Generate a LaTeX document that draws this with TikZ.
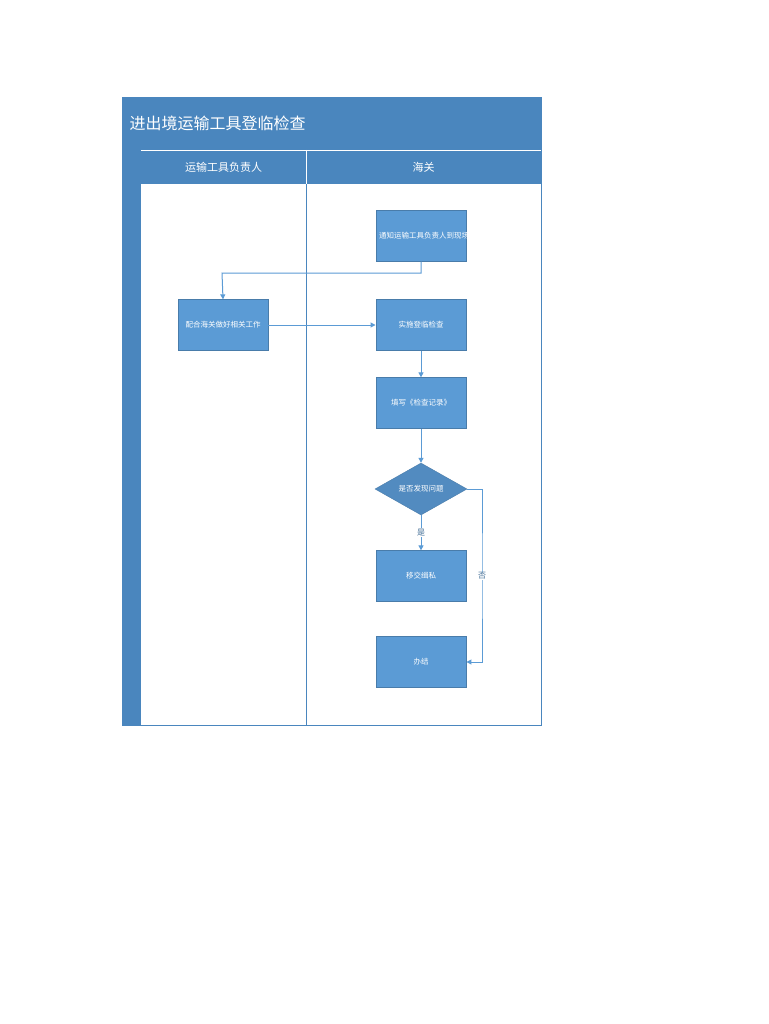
\documentclass[tikz,border=0pt]{standalone}
\usepackage{fontspec}
\setmainfont{Noto Sans CJK SC}
\usetikzlibrary{shapes.geometric,arrows.meta}
\definecolor{barblue}{HTML}{4A86BE}
\definecolor{boxblue}{HTML}{5B9BD5}
\tikzset{
  stepbox/.style={rectangle,fill=boxblue,draw=boxblue!80!black,line width=0.3pt,
    minimum width=90pt,minimum height=51pt,text width=84pt,align=center,
    text=white,font=\fontsize{7.5}{10}\selectfont},
  choice/.style={diamond,aspect=1.8,fill=boxblue!90!black,draw=boxblue!80!black,
    minimum width=92pt,minimum height=52pt,inner sep=0pt,text=white,
    font=\fontsize{7.5}{10}\selectfont},
  flow/.style={draw=boxblue,line width=1pt,-{Triangle[length=5pt,width=5pt]}},
  lbl/.style={text=boxblue!70!black,font=\fontsize{8}{10}\selectfont}
}
\begin{document}
\begin{tikzpicture}[x=1pt,y=-1pt]
\useasboundingbox (0,0) rectangle (768,1024);
% frame and lanes
\fill[white] (122,97) rectangle (541,725);
\fill[barblue] (122,97) rectangle (541,150);
\fill[barblue] (122,150) rectangle (141,725);
\fill[barblue] (141,150) rectangle (541,184);
\draw[barblue] (122,97) rectangle (541,725);
\draw[barblue] (306,150) -- (306,725);
\draw[white,line width=0.5pt] (141,150) -- (541,150);
\draw[white,line width=0.5pt] (306,150) -- (306,184);
\node[anchor=west,text=white,font=\fontsize{16}{18}\selectfont] (title) at (126,123) {进出境运输工具登临检查};
\node[text=white,font=\fontsize{11}{13}\selectfont] (laneA) at (223.5,167) {运输工具负责人};
\node[text=white,font=\fontsize{11}{13}\selectfont] (laneB) at (423.5,167) {海关};
% steps
\node[stepbox] (notify) at (421,236) {通知运输工具负责人到现场接受检查};
\node[stepbox] (assist) at (223,325) {配合海关做好相关工作};
\node[stepbox] (board) at (421,325) {实施登临检查};
\node[stepbox] (record) at (421,403) {填写《检查记录》};
\node[choice] (found) at (421,489) {是否发现问题};
\node[stepbox] (transfer) at (421,576) {移交缉私};
\node[stepbox] (done) at (421,662) {办结};
% connectors
\draw[flow] (notify.south) |- (222,273) -- (assist.north);
\draw[flow] (assist) -- (board);
\draw[flow] (board) -- (record);
\draw[flow] (record) -- (found);
\draw[flow] (found) -- node[lbl,fill=white,inner sep=1pt] {是} (transfer);
\draw[flow] (found.east) -| (482,576) node[lbl,fill=white,inner sep=1pt] {否} |- (done.east);
\end{tikzpicture}
\end{document}
